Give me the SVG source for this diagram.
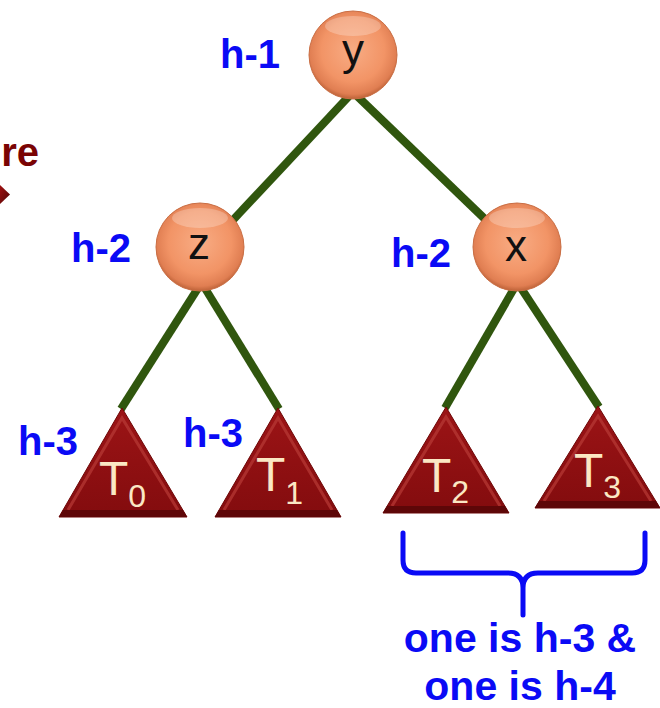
<svg xmlns="http://www.w3.org/2000/svg" width="660" height="708" viewBox="0 0 660 708">
<style>
.lbl{font-family:"Liberation Sans",Arial,sans-serif;font-weight:bold;font-size:40px;fill:#0a0af5}
.note{font-family:"Liberation Sans",Arial,sans-serif;font-weight:bold;font-size:41px;fill:#0a0af5;text-anchor:middle}
.nt{font-family:"Liberation Sans",Arial,sans-serif;font-size:44px;fill:#111;text-anchor:middle}
.tt{font-family:"Liberation Sans",Arial,sans-serif;font-size:48px;fill:#fbe8c4}
.ts{font-size:32px}
.edge{stroke:#30560e;stroke-width:8;stroke-linecap:butt;fill:none}
.circ{fill:url(#ball);stroke:#c96e44;stroke-width:1}
.hl{fill:#fff;opacity:0.25}
.tri{fill:url(#trig);stroke:#6e0606;stroke-width:1}
.bev{fill:none;stroke:#b83a36;stroke-width:3;opacity:0.7}
.band{fill:#5e0708}
.brace{fill:none;stroke:#0a0af5;stroke-width:5;stroke-linecap:round;stroke-linejoin:round}
</style>
<defs>
<radialGradient id="ball" cx="50%" cy="45%" r="55%">
<stop offset="0" stop-color="#f8ac84"/>
<stop offset="0.65" stop-color="#f29466"/>
<stop offset="0.9" stop-color="#e07e52"/>
<stop offset="1" stop-color="#bd6238"/>
</radialGradient>
<linearGradient id="trig" x1="0" y1="0" x2="0" y2="1">
<stop offset="0" stop-color="#9c1416"/>
<stop offset="1" stop-color="#830c0e"/>
</linearGradient>
<linearGradient id="arr" x1="0" y1="0" x2="1" y2="1">
<stop offset="0" stop-color="#a01010"/>
<stop offset="1" stop-color="#4e0505"/>
</linearGradient>
</defs>

<g id="fragment">
<text x="39" y="166" text-anchor="end" style="font-family:'Liberation Sans',Arial,sans-serif;font-weight:bold;font-size:40px;fill:#7a0404">re</text>
<polygon points="0,185 10,194.5 0,204" fill="url(#arr)"/>
</g>

<g id="connectors">
<line class="edge" x1="351" y1="94" x2="233" y2="220"/>
<line class="edge" x1="355" y1="94" x2="488" y2="222"/>
<line class="edge" x1="200" y1="285" x2="121" y2="409"/>
<line class="edge" x1="203" y1="285" x2="279" y2="409"/>
<line class="edge" x1="516" y1="285" x2="445" y2="408"/>
<line class="edge" x1="519" y1="285" x2="599" y2="407"/>
</g>

<g id="node-y">
<circle class="circ" cx="353" cy="55" r="44"/>
<ellipse class="hl" cx="353" cy="26" rx="28" ry="10"/>
<text class="nt" x="353" y="65">y</text>
</g>
<g id="node-z">
<circle class="circ" cx="200" cy="247" r="44"/>
<ellipse class="hl" cx="200" cy="218" rx="28" ry="10"/>
<text class="nt" x="199" y="259">z</text>
</g>
<g id="node-x">
<circle class="circ" cx="517" cy="247" r="44"/>
<ellipse class="hl" cx="517" cy="218" rx="28" ry="10"/>
<text class="nt" x="516" y="261">x</text>
</g>

<g id="tree-T0">
<polygon class="tri" points="122,408 187,517 59,517"/>
<polyline class="bev" points="68,510 122,418 178,510"/>
<polygon class="band" points="63,510 183,510 187,517 59,517"/>
<text class="tt" x="99" y="495">T<tspan class="ts" dy="12">0</tspan></text>
</g>
<g id="tree-T1">
<polygon class="tri" points="278,408 341,517 215,517"/>
<polyline class="bev" points="224,510 278,418 332,510"/>
<polygon class="band" points="219,510 337,510 341,517 215,517"/>
<text class="tt" x="256" y="491">T<tspan class="ts" dy="13">1</tspan></text>
</g>
<g id="tree-T2">
<polygon class="tri" points="446,407 509,513 383,513"/>
<polyline class="bev" points="392,506 446,417 500,506"/>
<polygon class="band" points="387,506 505,506 509,513 383,513"/>
<text class="tt" x="422" y="492">T<tspan class="ts" dy="11">2</tspan></text>
</g>
<g id="tree-T3">
<polygon class="tri" points="598,406 660,508 535,508"/>
<polyline class="bev" points="544,501 598,416 651,501"/>
<polygon class="band" points="539,501 656,501 660,508 535,508"/>
<text class="tt" x="574" y="487">T<tspan class="ts" dy="11">3</tspan></text>
</g>

<g id="labels">
<text class="lbl" x="220" y="68">h-1</text>
<text class="lbl" x="71" y="262">h-2</text>
<text class="lbl" x="391" y="267">h-2</text>
<text class="lbl" x="18" y="455">h-3</text>
<text class="lbl" x="183" y="447">h-3</text>
</g>

<g id="brace-note">
<path class="brace" d="M403,533 L403,560 Q403,573 416,573 L508,573 Q523,573 523,588 L523,615 M523,588 Q523,573 538,573 L632,573 Q645,573 645,560 L645,533"/>
<text class="note" x="520" y="652">one is h-3 &amp;</text>
<text class="note" x="520" y="700">one is h-4</text>
</g>
</svg>
